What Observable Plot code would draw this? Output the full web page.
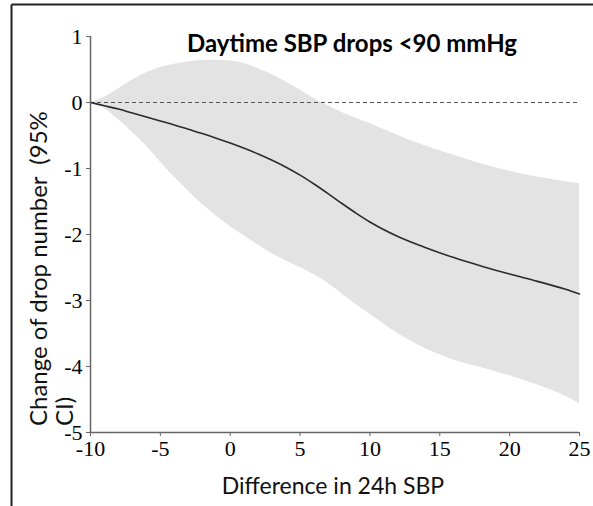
<!DOCTYPE html>
<html>
<head>
<meta charset="utf-8">
<script src="https://cdn.jsdelivr.net/npm/d3@7"></script>
<script src="https://cdn.jsdelivr.net/npm/@observablehq/plot@0.6"></script>
<style>
  html, body { margin: 0; padding: 0; background: #fff; }
  #chart { width: 593px; height: 506px; }
</style>
</head>
<body>
<div id="chart"></div>
<script>
const titleText = "Daytime SBP drops <90 mmHg";
const xLabel = "Difference in 24h SBP";
const yLabelLines = ["Change of drop number  (95%", "CI)"];

const xValues = [-10, -9, -8, -7, -6, -5, -4, -3, -2, -1, 0, 1, 2, 3, 4, 5, 6, 7, 8, 9, 10, 12, 14, 16, 18, 20, 22, 24, 25];
const estimate = [0, -0.05, -0.1, -0.16, -0.22, -0.28, -0.34, -0.405, -0.47, -0.54, -0.615, -0.695, -0.78, -0.875, -0.98, -1.1, -1.235, -1.38, -1.53, -1.675, -1.81, -2.03, -2.2, -2.35, -2.48, -2.6, -2.71, -2.83, -2.9];
const upper = [0, 0.08, 0.21, 0.34, 0.45, 0.53, 0.58, 0.615, 0.635, 0.64, 0.63, 0.59, 0.51, 0.42, 0.31, 0.19, 0.06, -0.05, -0.15, -0.24, -0.32, -0.5, -0.66, -0.8, -0.93, -1.04, -1.13, -1.2, -1.23];
const lower = [0, -0.09, -0.26, -0.45, -0.66, -0.9, -1.13, -1.34, -1.54, -1.72, -1.88, -2.02, -2.16, -2.29, -2.4, -2.5, -2.61, -2.74, -2.9, -3.06, -3.21, -3.5, -3.73, -3.9, -4.02, -4.14, -4.28, -4.45, -4.56];

const xTicks = [-10, -5, 0, 5, 10, 15, 20, 25];
const yTicks = [1, 0, -1, -2, -3, -4, -5];
const xDomain = [-10, 25];
const yDomain = [-5, 1];

const data = xValues.map((x, i) => ({x, est: estimate[i], hi: upper[i], lo: lower[i]}));

const W = 593, H = 506;
const fmt = d => String(d).replace("\u2212", "-");
const plot = Plot.plot({
  width: W,
  height: H,
  marginLeft: 90,
  marginRight: 14,
  marginTop: 36,
  marginBottom: 74,
  style: {background: "#fff", color: "#000", overflow: "visible"},
  x: {domain: xDomain},
  y: {domain: yDomain},
  marks: [
    Plot.areaY(data, {x: "x", y1: "lo", y2: "hi", fill: "#e3e3e3", curve: "monotone-x"}),
    Plot.ruleY([0], {stroke: "#555", strokeWidth: 1.2, strokeDasharray: "4,3"}),
    Plot.lineY(data, {x: "x", y: "est", stroke: "#2b2b2b", strokeWidth: 1.6, curve: "monotone-x"}),
    Plot.ruleX([xDomain[0]], {stroke: "#666", strokeWidth: 1.5}),
    Plot.ruleY([yDomain[0]], {stroke: "#666", strokeWidth: 1.5}),
    Plot.axisY({ticks: yTicks, tickSize: 4, tickPadding: 4, stroke: "#666", fontSize: 22, fontFamily: "Liberation Serif", tickFormat: fmt, label: null}),
    Plot.axisX({ticks: xTicks, tickSize: 4, tickPadding: 4, stroke: "#666", fontSize: 22, fontFamily: "Liberation Serif", tickFormat: fmt, label: null}),
    Plot.text([titleText], {frameAnchor: "top", dx: 17, dy: 15, lineAnchor: "bottom", text: d => d, fontSize: 24, fontWeight: "bold", fontFamily: "Lato", fill: "#000"})
  ]
});
document.getElementById("chart").appendChild(plot);

const svg = d3.select(plot);
// frame border lines (top and left)
svg.append("line").attr("x1", 11.5).attr("x2", 593).attr("y1", 4.5).attr("y2", 4.5).attr("stroke", "#222").attr("stroke-width", 2);
svg.append("line").attr("x1", 11.5).attr("x2", 11.5).attr("y1", 4.5).attr("y2", H).attr("stroke", "#222").attr("stroke-width", 2);
// x label
svg.append("text").attr("x", 333).attr("y", 494).attr("text-anchor", "middle")
  .attr("font-family", "Lato").attr("font-size", 23).attr("fill", "#111").text(xLabel);
// y label (two lines, rotated)
const yl = svg.append("text").attr("transform", "translate(47,426) rotate(-90)")
  .attr("text-anchor", "start").attr("font-family", "Lato").attr("font-size", 24).attr("fill", "#111");
yl.append("tspan").attr("x", 0).attr("y", 0).text(yLabelLines[0]);
yl.append("tspan").attr("x", 0).attr("y", 26).text(yLabelLines[1]);
</script>
</body>
</html>
